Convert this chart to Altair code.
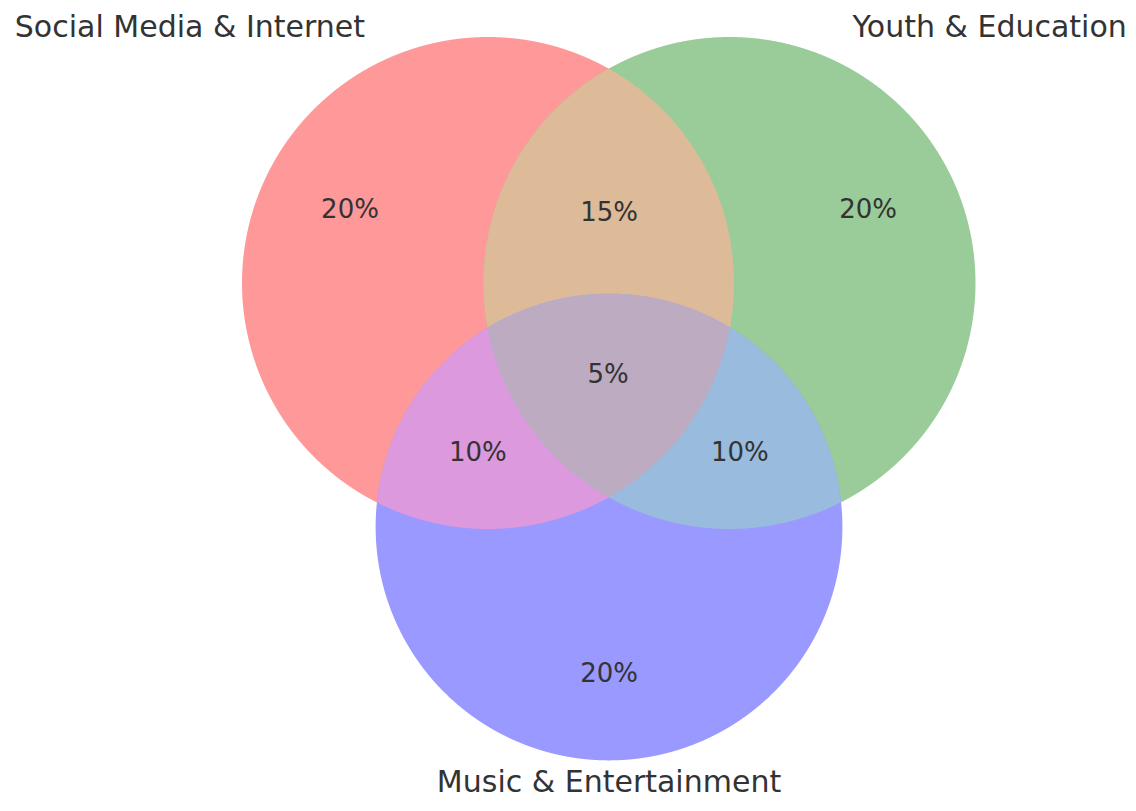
import numpy as np
import pandas as pd
import altair as alt

# ---- data ----
set_names = ["Social Media & Internet", "Youth & Education", "Music & Entertainment"]
region_ids = ["100", "010", "001", "110", "101", "011", "111"]
region_values = [20, 20, 20, 15, 10, 10, 5]
region_colors = ["#ff9999", "#99cc99", "#9999ff", "#ddbb99", "#dd99dd", "#99bbdd", "#bdabc1"]
# circle centres (layout units, radius of set A = 1)
center_x = [0.0, 0.9817, 0.4919]
center_y = [0.0, 0.0, -0.9919]
# label positions for each region (layout units)
label_x = [-0.561, 1.545, 0.492, 0.492, -0.041, 1.024, 0.488]
label_y = [0.297, 0.297, -1.589, 0.285, -0.691, -0.691, -0.374]

# ---- geometry ----
value_of = dict(zip(region_ids, region_values))
areas = [sum(v for k, v in value_of.items() if k[i] == "1") for i in range(3)]
radii = [float(np.sqrt(a / areas[0])) for a in areas]


def region_polygon(rid):
    sets = [i for i, c in enumerate(rid) if c == "1"]
    theta = np.linspace(0, 2 * np.pi, 4000, endpoint=False)
    pts = []
    for i in sets:
        px = center_x[i] + radii[i] * np.cos(theta)
        py = center_y[i] + radii[i] * np.sin(theta)
        mask = np.ones_like(px, dtype=bool)
        for j in sets:
            if j != i:
                mask &= (px - center_x[j]) ** 2 + (py - center_y[j]) ** 2 <= radii[j] ** 2 + 1e-12
        pts.append(np.column_stack([px[mask], py[mask]]))
    pts = np.vstack(pts)
    cx, cy = pts.mean(axis=0)
    order = np.argsort(np.arctan2(pts[:, 1] - cy, pts[:, 0] - cx))
    pts = pts[order]
    ring = [[float(x), float(y)] for x, y in pts]
    ring.append(ring[0])
    return ring


features = []
for rid, col in zip(region_ids, region_colors):
    features.append({
        "type": "Feature",
        "properties": {"id": rid, "color": col},
        "geometry": {"type": "Polygon", "coordinates": [region_polygon(rid)]},
    })

proj = dict(type="identity", reflectY=True, scale=246, translate=[480, 275])

shapes = alt.Chart(alt.Data(values=features)).mark_geoshape(strokeWidth=0, stroke="transparent").encode(
    color=alt.Color("properties.color:N", scale=None),
).project(**proj)

labels_df = pd.DataFrame({
    "x": label_x, "y": label_y,
    "label": [f"{v}%" for v in region_values],
})
labels = alt.Chart(labels_df).mark_text(
    font="DejaVu Sans", fontSize=26, color="#333333", align="center", baseline="middle"
).encode(longitude="x:Q", latitude="y:Q", text="label:N").project(**proj)

# set labels placed relative to their circles
set_df_a = pd.DataFrame({"x": [center_x[0] - radii[0] / 2], "y": [center_y[0] + radii[0]], "t": [set_names[0]]})
set_df_b = pd.DataFrame({"x": [center_x[1] + radii[1] / 2], "y": [center_y[1] + radii[1]], "t": [set_names[1]]})
set_df_c = pd.DataFrame({"x": [center_x[2]], "y": [center_y[2] - radii[2] * 1.1], "t": [set_names[2]]})


def set_label(df, align, baseline, dy=0):
    return alt.Chart(df).mark_text(
        font="DejaVu Sans", fontSize=30, color="#333333", align=align, baseline=baseline, dy=dy
    ).encode(longitude="x:Q", latitude="y:Q", text="t:N").project(**proj)


chart = alt.layer(
    shapes,
    labels,
    set_label(set_df_a, "right", "alphabetic"),
    set_label(set_df_b, "left", "alphabetic"),
    set_label(set_df_c, "center", "top", dy=-16),
).properties(width=1120, height=792, padding=0).configure_view(stroke=None)

chart.save("out.html", embed_options={"renderer": "svg", "actions": False})
